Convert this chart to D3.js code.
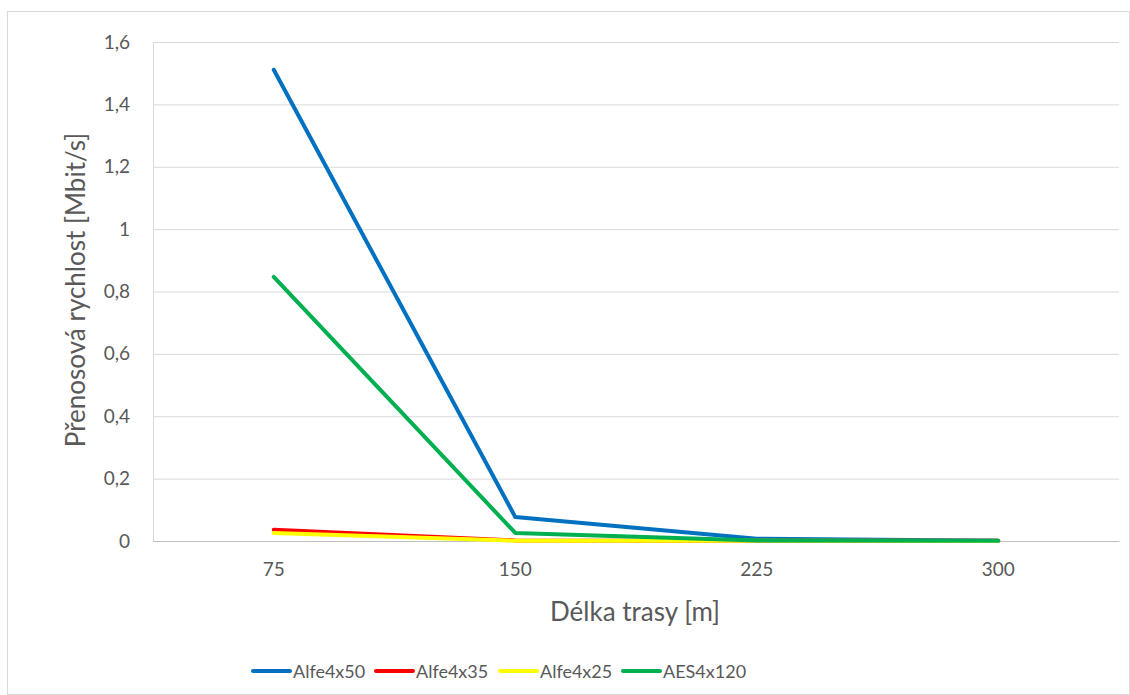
<!DOCTYPE html>
<html>
<head>
<meta charset="utf-8">
<script src="https://cdn.jsdelivr.net/npm/d3@7/dist/d3.min.js"></script>
<style>
  html, body { margin: 0; padding: 0; background: #fff; }
  svg { display: block; }
  text { font-family: Lato, "Open Sans", sans-serif; fill: #595959; }
</style>
</head>
<body>
<svg id="chart" width="1130" height="695"></svg>
<script>
// Route lengths [m]
const categories = ["75", "150", "225", "300"];

// Transfer rate [Mbit/s] per cable type
const seriesNames = ["Alfe4x50", "Alfe4x35", "Alfe4x25", "AES4x120"];
const alfe4x50 = [1.511, 0.077, 0.007, 0.001];
const alfe4x35 = [0.036, 0.002, 0.001, 0.0005];
const alfe4x25 = [0.026, 0.001, 0.0005, 0.0003];
const aes4x120 = [0.847, 0.026, 0.002, 0.001];
const seriesColors = ["#0070C0", "#FF0000", "#FFFF00", "#00B050"];

const yTicks = [0, 0.2, 0.4, 0.6, 0.8, 1, 1.2, 1.4, 1.6];

const series = [alfe4x50, alfe4x35, alfe4x25, aes4x120].map((v, i) => ({
  name: seriesNames[i], color: seriesColors[i], values: v
}));

const svg = d3.select("#chart");
const W = 1130, H = 695;
const plot = { left: 153, right: 1119, top: 42, bottom: 541 };
const FONT = "Lato, 'Open Sans', sans-serif";

// Outer chart frame
svg.append("rect")
  .attr("x", 7.5).attr("y", 11.5)
  .attr("width", W - 8).attr("height", H - 12)
  .attr("fill", "#fff").attr("stroke", "#d9d9d9").attr("stroke-width", 1);

const x = d3.scaleBand().domain(categories).range([plot.left, plot.right]);
const y = d3.scaleLinear().domain([0, 1.6]).range([plot.bottom, plot.top]);

const fmt = v => d3.format(".1~f")(v).replace(".", ",");

// Gridlines and y tick labels
const yAxis = d3.axisLeft(y).tickValues(yTicks).tickFormat(fmt)
  .tickSize(-(plot.right - plot.left)).tickPadding(23);
const gy = svg.append("g").attr("transform", `translate(${plot.left},0)`).call(yAxis);
gy.select(".domain").remove();
gy.selectAll(".tick line").attr("stroke", "#d9d9d9").attr("stroke-width", 1)
  .filter(d => d === 0).attr("stroke", "#bfbfbf");
gy.selectAll(".tick text").attr("font-size", 19).style("fill", "#595959")
  .attr("font-family", FONT);

// Left plot border
svg.append("line")
  .attr("x1", plot.left + 0.5).attr("x2", plot.left + 0.5)
  .attr("y1", plot.top).attr("y2", plot.bottom)
  .attr("stroke", "#d9d9d9");

// X axis labels
const xAxis = d3.axisBottom(x).tickSize(0).tickPadding(22);
const gx = svg.append("g").attr("transform", `translate(0,${plot.bottom})`).call(xAxis);
gx.select(".domain").attr("stroke", "#bfbfbf");
gx.selectAll(".tick text").attr("font-size", 19).style("fill", "#595959")
  .attr("font-family", FONT);

// Series lines
const line = d3.line()
  .x((d, i) => x(categories[i]) + x.bandwidth() / 2)
  .y(d => y(d));

svg.append("g").selectAll("path").data(series).join("path")
  .attr("d", d => line(d.values))
  .attr("fill", "none")
  .attr("stroke", d => d.color)
  .attr("stroke-width", 4)
  .attr("stroke-linejoin", "round")
  .attr("stroke-linecap", "round");

// Axis titles
svg.append("text")
  .attr("x", 635).attr("y", 621)
  .attr("text-anchor", "middle").attr("font-size", 26)
  .text("Délka trasy [m]");

svg.append("text")
  .attr("transform", `translate(85,290) rotate(-90)`)
  .attr("text-anchor", "middle").attr("font-size", 26)
  .text("Přenosová rychlost [Mbit/s]");

// Legend
const legendX = [253, 376, 500, 623];
const lg = svg.append("g").selectAll("g").data(series).join("g")
  .attr("transform", (d, i) => `translate(${legendX[i]},671)`);
lg.append("line").attr("x1", 0).attr("x2", 37).attr("y1", 0).attr("y2", 0)
  .attr("stroke", d => d.color).attr("stroke-width", 4).attr("stroke-linecap", "round");
lg.append("text").attr("x", 40).attr("y", 7).attr("font-size", 18)
  .text(d => d.name);
</script>
</body>
</html>
